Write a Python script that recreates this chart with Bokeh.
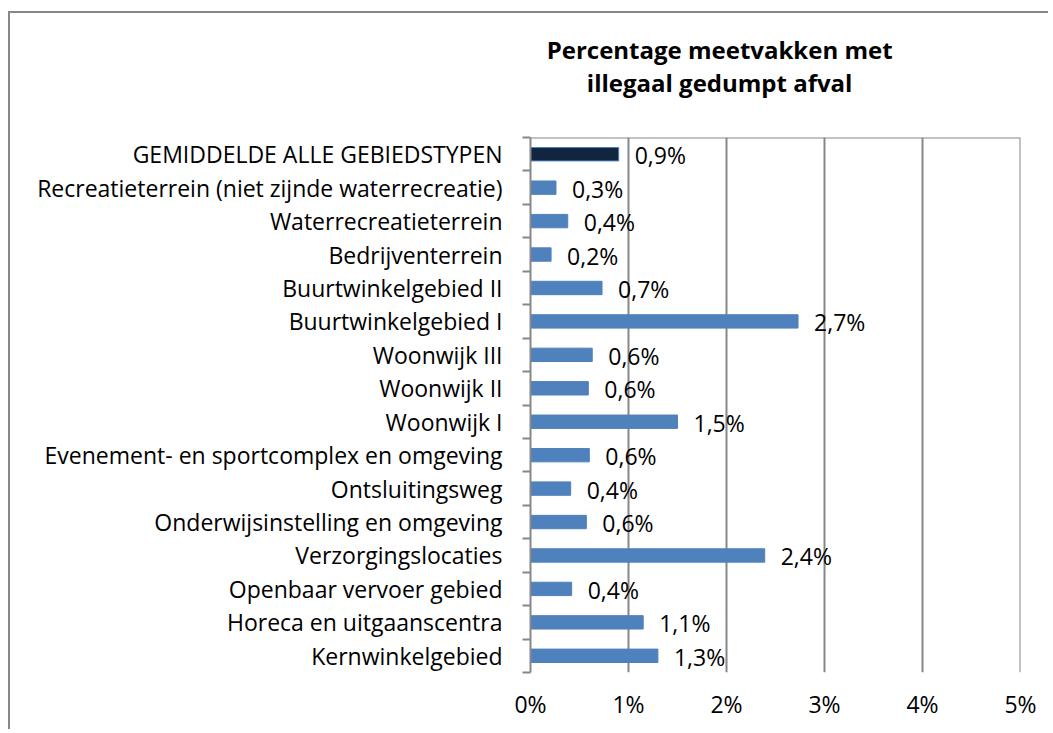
from bokeh.plotting import figure
from bokeh.models import Range1d, FixedTicker, Span, ColumnDataSource, LinearAxis
from bokeh.core.properties import value
from bokeh.embed import file_html
from bokeh.resources import INLINE

categories = [
    "GEMIDDELDE ALLE GEBIEDSTYPEN",
    "Recreatieterrein (niet zijnde waterrecreatie)",
    "Waterrecreatieterrein",
    "Bedrijventerrein",
    "Buurtwinkelgebied II",
    "Buurtwinkelgebied I",
    "Woonwijk III",
    "Woonwijk II",
    "Woonwijk I",
    "Evenement- en sportcomplex en omgeving",
    "Ontsluitingsweg",
    "Onderwijsinstelling en omgeving",
    "Verzorgingslocaties",
    "Openbaar vervoer gebied",
    "Horeca en uitgaanscentra",
    "Kernwinkelgebied",
]
values = [0.90, 0.26, 0.38, 0.21, 0.73, 2.73, 0.63, 0.59, 1.50, 0.60, 0.41, 0.57, 2.39, 0.42, 1.15, 1.30]
value_labels = ["0,9%", "0,3%", "0,4%", "0,2%", "0,7%", "2,7%", "0,6%", "0,6%", "1,5%",
                "0,6%", "0,4%", "0,6%", "2,4%", "0,4%", "1,1%", "1,3%"]
x_ticks = [0, 1, 2, 3, 4, 5]
x_tick_labels = ["0%", "1%", "2%", "3%", "4%", "5%"]
title_lines = ["Percentage meetvakken met", "illegaal gedumpt afval"]

FONT = "Open Sans"
GRAY = "#878787"
BLUE = "#4F81BD"
DARK = "#10253F"
FS = "23px"

n = len(categories)
pos = list(range(1, n + 1))
fills = [DARK] + [BLUE] * (n - 1)

src = ColumnDataSource(dict(pos=pos, val=values, lab=value_labels, fill=fills))

p = figure(width=1040, height=718, x_range=Range1d(0, 5), y_range=Range1d(n + 0.5, 0.5),
           output_backend="svg", toolbar_location=None,
           min_border_left=520, min_border_right=30, min_border_top=124, min_border_bottom=59)
p.outline_line_color = None
p.background_fill_color = "white"
p.border_fill_color = "white"
p.styles = {"border-left": "2px solid #878787", "border-top": "2px solid #878787",
            "margin-top": "11px", "margin-left": "8px"}

p.ygrid.visible = False
p.xgrid.ticker = FixedTicker(ticks=x_ticks)
p.xgrid.grid_line_color = GRAY
p.xgrid.grid_line_width = 2

xa = p.xaxis[0]
xa.ticker = FixedTicker(ticks=x_ticks)
xa.major_label_overrides = {t: l for t, l in zip(x_ticks, x_tick_labels)}
xa.axis_line_color = None
xa.major_tick_line_color = None
xa.minor_tick_line_color = None
xa.major_label_standoff = 9
xa.major_label_text_font = FONT
xa.major_label_text_font_size = FS
xa.major_label_text_color = "black"

ya = p.yaxis[0]
ya.ticker = FixedTicker(ticks=pos, minor_ticks=[i + 0.5 for i in range(0, n + 1)])
ya.major_label_overrides = {t: c for t, c in zip(pos, categories)}
ya.major_tick_line_color = None
ya.minor_tick_in = 0
ya.minor_tick_out = 8
ya.minor_tick_line_color = GRAY
ya.minor_tick_line_width = 2
ya.axis_line_color = GRAY
ya.axis_line_width = 2
ya.major_label_standoff = 20
ya.major_label_text_font = FONT
ya.major_label_text_font_size = FS
ya.major_label_text_color = "black"

# chart title: two centred lines drawn as labels of two tick-less axes above the frame
title_x = 1.93
for txt, standoff in zip(reversed(title_lines), [33, -9]):
    ax = LinearAxis(ticker=FixedTicker(ticks=[title_x]),
                    major_label_overrides={title_x: txt},
                    axis_line_color=None, major_tick_line_color=None,
                    minor_tick_line_color=None, major_label_standoff=standoff,
                    major_label_text_font=FONT, major_label_text_font_size="24px",
                    major_label_text_font_style="bold", major_label_text_color="black")
    p.add_layout(ax, "above")

p.add_layout(Span(location=0.5, dimension="width", line_color=GRAY, line_width=2))
p.add_layout(Span(location=5, dimension="height", line_color=GRAY, line_width=2))

p.hbar(y="pos", left=0, right="val", height=0.4, source=src,
       fill_color="fill", line_color=BLUE, line_width=1)

p.text(x="val", y="pos", text="lab", source=src, x_offset=16, y_offset=1,
       text_align="left", text_baseline="middle",
       text_font=value(FONT), text_font_size=FS, text_color="black")

open("out.html", "w").write(file_html(p, INLINE))
